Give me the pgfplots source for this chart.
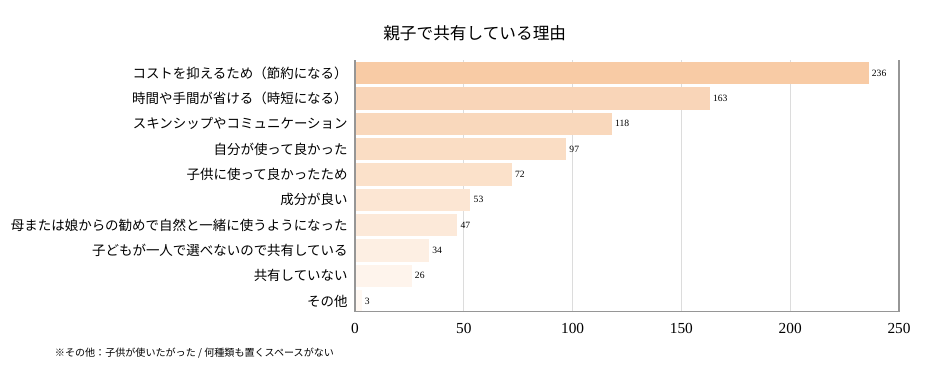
\documentclass[border=0pt]{standalone}
\usepackage{fontspec}
\setmainfont{Liberation Serif}
\newfontfamily\jp{Noto Sans CJK JP}
\usepackage{pgfplots}
\pgfplotsset{compat=1.18}
\definecolor{c0}{HTML}{F8CBA5}
\definecolor{c1}{HTML}{F9D5B8}
\definecolor{c2}{HTML}{F9D8BC}
\definecolor{c3}{HTML}{FADDC4}
\definecolor{c4}{HTML}{FBE1CA}
\definecolor{c5}{HTML}{FCE6D3}
\definecolor{c6}{HTML}{FCE9D9}
\definecolor{c7}{HTML}{FDEFE3}
\definecolor{c8}{HTML}{FEF4EC}
\definecolor{c9}{HTML}{FFF8F2}
\definecolor{gridc}{RGB}{220,220,220}
\definecolor{framec}{RGB}{150,150,150}
\begin{document}
\begin{tikzpicture}
\useasboundingbox (0,0) rectangle (699pt,282pt);
\begin{axis}[
  at={(266.25pt,48.2pt)}, anchor=south west,
  width=408pt, height=188.5pt, scale only axis,
  xbar, bar shift=0pt, bar width=0.88,
  xmin=0, xmax=250, ymin=-0.42, ymax=9.5,
  xtick={0,50,100,150,200,250},
  ytick={0,...,9},
  yticklabels={その他,共有していない,子どもが一人で選べないので共有している,母または娘からの勧めで自然と一緒に使うようになった,成分が良い,子供に使って良かったため,自分が使って良かった,スキンシップやコミュニケーション,時間や手間が省ける（時短になる）,コストを抑えるため（節約になる）},
  yticklabel style={font=\jp\fontsize{10.1}{11}\selectfont, xshift=-2pt},
  xticklabel style={font=\fontsize{11.5}{12}\selectfont, yshift=-5pt},
  /pgf/number format/assume math mode=true,
  major tick length=0pt,
  xmajorgrids, grid style={gridc, line width=0.6pt},
  axis line style={draw=none},
  nodes near coords,
  every node near coord/.append style={font=\fontsize{7.2}{8}\selectfont, xshift=-1pt},
  clip=false,
]
\addplot[fill=c0, draw=none] coordinates {(236,9)};
\addplot[fill=c1, draw=none] coordinates {(163,8)};
\addplot[fill=c2, draw=none] coordinates {(118,7)};
\addplot[fill=c3, draw=none] coordinates {(97,6)};
\addplot[fill=c4, draw=none] coordinates {(72,5)};
\addplot[fill=c5, draw=none] coordinates {(53,4)};
\addplot[fill=c6, draw=none] coordinates {(47,3)};
\addplot[fill=c7, draw=none] coordinates {(34,2)};
\addplot[fill=c8, draw=none] coordinates {(26,1)};
\addplot[fill=c9, draw=none] coordinates {(3,0)};
\draw[framec, line width=0.9pt] (rel axis cs:0,1) -- (rel axis cs:0,0) -- (rel axis cs:1,0) -- (rel axis cs:1,1);
\end{axis}
\node[font=\jp\fontsize{12.5}{13}\selectfont] at (356pt,257.25pt) {親子で共有している理由};
\node[font=\jp\fontsize{7.55}{8}\selectfont, anchor=west, inner sep=0pt] at (41pt,17.25pt) {※その他：子供が使いたがった / 何種類も置くスペースがない};
\end{tikzpicture}
\end{document}
